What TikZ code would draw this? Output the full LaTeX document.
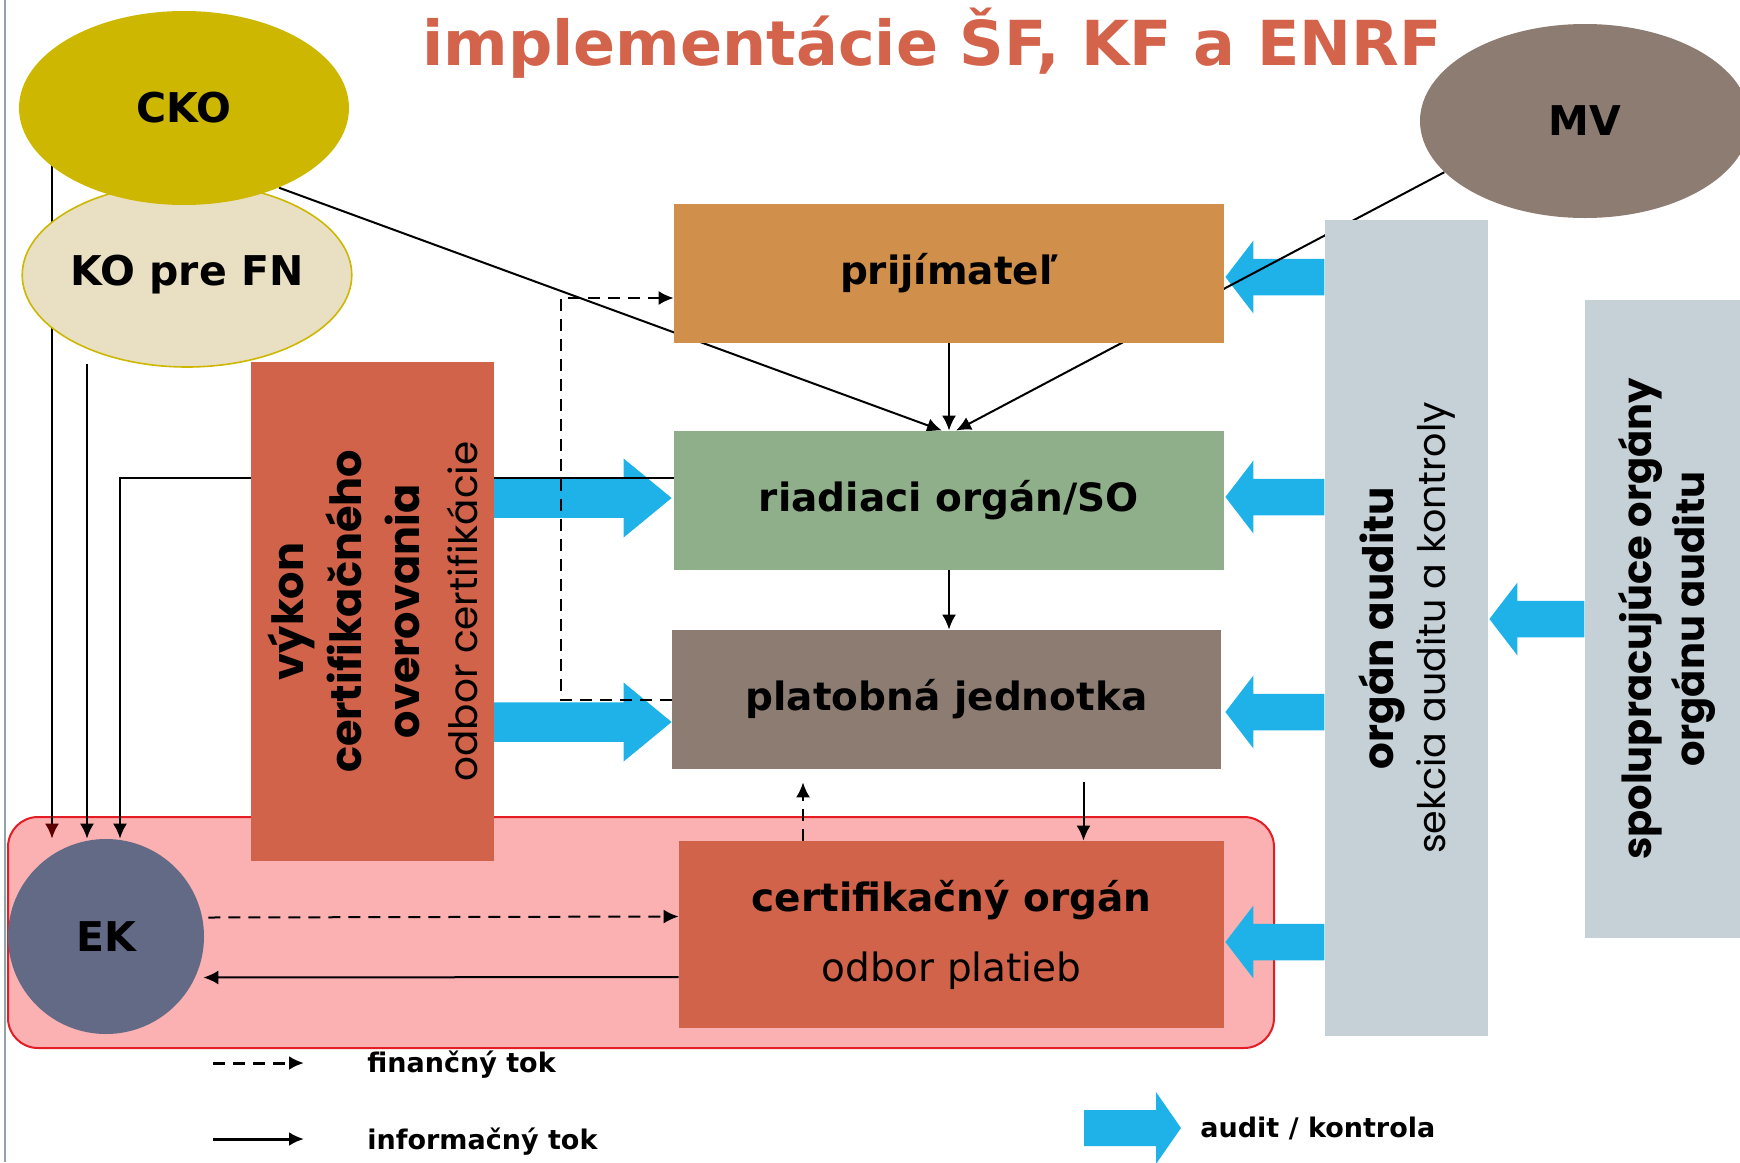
\documentclass[tikz,border=0pt]{standalone}
\usepackage{fontspec}
\setmainfont{DejaVu Sans}
\newfontfamily\gothic{Poppins}
\usetikzlibrary{calc,arrows.meta,shapes.geometric}
\tikzset{>={Latex[length=7.5pt,width=7pt]}}

\definecolor{titlered}{RGB}{212,99,75}
\definecolor{ckoyellow}{RGB}{205,183,0}
\definecolor{kobeige}{RGB}{233,224,196}
\definecolor{taupe}{RGB}{140,124,113}
\definecolor{prijtan}{RGB}{208,143,74}
\definecolor{sage}{RGB}{143,175,138}
\definecolor{brick}{RGB}{208,99,74}
\definecolor{slate}{RGB}{98,106,134}
\definecolor{pinkfill}{RGB}{251,177,177}
\definecolor{framered}{RGB}{228,28,36}
\definecolor{auditgray}{RGB}{197,208,215}
\definecolor{auditblue}{RGB}{30,178,232}
\definecolor{edgegray}{RGB}{143,165,168}
\definecolor{tipred}{RGB}{90,0,0}

\pgfdeclarelayer{under}
\pgfdeclarelayer{flows}
\pgfsetlayers{under,flows,main}

\tikzset{
  oval/.style={ellipse, inner sep=0pt, minimum width=165pt, minimum height=97pt, font=\fontsize{20.5}{24}\selectfont\bfseries},
  box/.style={rectangle, inner sep=0pt, minimum width=275pt, minimum height=69.5pt, font=\fontsize{19.5}{23}\selectfont\bfseries},
  column/.style={rectangle, rotate=90, inner sep=0pt, fill=auditgray, align=center, font=\gothic\fontsize{21}{26}\selectfont},
  info/.style={->, line width=1pt},
  fin/.style={->, line width=1pt, dash pattern=on 6pt off 4pt},
  legendtext/.style={anchor=west, inner sep=0pt, font=\fontsize{13.5}{16}\selectfont\bfseries},
  % #1 length, #2 head length, #3 head half width, #4 side of the body (-1 left, 1 right)
  pics/audit/.style n args={4}{code={
    \fill[auditblue] (0,0) -- (#4*#2,-#3) -- (#4*#2,-#3/2) -- (#4*#1,-#3/2) -- (#4*#1,#3/2) -- (#4*#2,#3/2) -- (#4*#2,#3) -- cycle;
  }}
}

\begin{document}
\begin{tikzpicture}[x=0.5pt,y=-0.5pt]
  \useasboundingbox (0,0) rectangle (1740,1162);
  \draw[edgegray, line width=1.2pt] (5,0) -- (5,1162);

  \node[font=\fontsize{31}{36}\selectfont\bfseries, text=titlered, anchor=base, inner sep=0pt] (title) at (932,65) {implementácie ŠF, KF a ENRF};

  % organy
  \node[oval, fill=kobeige, draw=ckoyellow, line width=0.8pt, minimum width=162pt, minimum height=92pt] (KO) at (187,275) {KO pre FN};
  \node[oval, fill=ckoyellow] (CKO) at (184,108) {CKO};
  \node[oval, fill=taupe] (MV) at (1585,121) {MV};
  \node[oval, fill=slate, minimum width=98pt, minimum height=97.5pt] (EK) at (106,936.5) {EK};

  \node[box, fill=prijtan] (prij) at (949,273) {prijímateľ};
  \node[box, fill=sage] (ro) at (949,500.5) {riadiaci orgán/SO};
  \node[box, fill=taupe, minimum width=274.5pt] (pj) at (946.5,699.5) {platobná jednotka};
  \node[box, fill=brick, minimum width=272.5pt, minimum height=93.5pt, align=center] (co) at (951.5,934.5) {certifikačný orgán\\[12pt]{\mdseries odbor platieb}};

  \node[column, fill=brick, minimum width=249.5pt, minimum height=121.5pt, font=\gothic\fontsize{21.5}{29}\selectfont] (vykon) at (372.5,611.5)
    {\textbf{výkon}\\\textbf{certifikačného}\\\textbf{overovania}\\{\fontsize{19.5}{26}\selectfont odbor certifikácie}};
  \node[column, minimum width=408pt, minimum height=81.5pt] (oa) at (1406.5,628) {\textbf{orgán auditu}\\{\fontsize{19}{26}\selectfont sekcia auditu a kontroly}};
  \node[column, minimum width=319pt, minimum height=82.5pt, font=\gothic\fontsize{20}{26.5}\selectfont] (so) at (1667,619) {\textbf{spolupracujúce orgány}\\\textbf{orgánu auditu}};

  % legenda
  \coordinate (finA) at (213,1063);
  \coordinate (finB) at (304,1063);
  \coordinate (infA) at (213,1139);
  \coordinate (infB) at (304,1139);
  \node[legendtext] (finlabel) at (367,1065) {finančný tok};
  \node[legendtext] (inflabel) at (367,1142) {informačný tok};
  \node[legendtext] (auditlabel) at (1200,1128) {audit / kontrola};

  \begin{pgfonlayer}{under}
    \node[rectangle, rounded corners=15pt, fill=pinkfill, draw=framered, line width=1pt, minimum width=633pt, minimum height=115.5pt] (ram) at (641,932.5) {};
    \pic at ($(prij.east)+(1,4)$) {audit={99}{28}{36.5}{1}};
    \pic at ($(ro.east)+(1,-3.5)$) {audit={99}{28}{36.5}{1}};
    \pic at ($(pj.east)+(4,12.5)$) {audit={99}{28}{36.5}{1}};
    \pic at ($(co.east)+(1,7.5)$) {audit={99}{28}{36.5}{1}};
    \pic at ($(oa.south)+(1,-9)$) {audit={95}{28}{36.5}{1}};
    \pic at ($(ro.west)+(-2,-2.5)$) {audit={178}{48}{39.5}{-1}};
    \pic at ($(pj.west)+(0,22.5)$) {audit={178}{48}{39.5}{-1}};
    \pic at (1181,1128) {audit={97}{25}{36}{-1}};
  \end{pgfonlayer}

  \begin{pgfonlayer}{flows}
    \draw[info, -{Latex[length=7.5pt,width=7pt,color=tipred]}] ($(CKO.center)+(-132,0)$) -| ($(EK.north)+(-54,0)$);
    \draw[info] ($(KO.south)+(-100,-4)$) -| ($(EK.north)+(-19,0)$);
    \draw[info] ($(ro.north west)+(0,47)$) -| ($(EK.north)+(14,0)$);
    \draw[info] (CKO.-40) -- ($(ro.north)+(-7,0)$);
    \draw[info] (MV.200) -- ($(ro.north)+(7,0)$);
    \draw[info] (prij.south) -- (ro.north);
    \draw[info] (ro.south) -- (pj.north -| ro.south);
    \draw[info] ($(pj.south)+(137,13)$) -- ($(co.north)+(132,0)$);
    \draw[fin] ($(co.north)+(-148.5,0)$) -- ($(pj.south)+(-143.5,13)$);
    \draw[fin] (pj.west) -- ++(-111,0) |- ($(prij.west)+(0,25)$);
    \draw[fin] ($(EK.east)+(4,-19)$) -- ($(co.west)+(0,-18)$);
    \draw[info] ($(co.west)+(0,42.5)$) -- ($(EK.east)+(-1,41)$);
    \draw[fin, line width=1.5pt] (finA) -- (finB);
    \draw[info, line width=1.5pt] (infA) -- (infB);
  \end{pgfonlayer}
\end{tikzpicture}
\end{document}
